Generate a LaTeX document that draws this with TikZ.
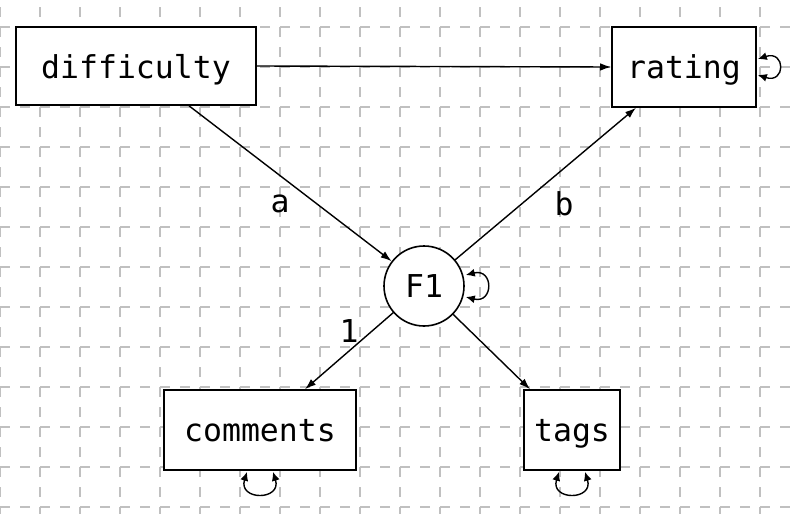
\documentclass[tikz,border=0pt]{standalone}
\usepackage{fontspec}
\setmonofont{DejaVu Sans Mono}
\usetikzlibrary{arrows.meta,calc}
\begin{document}
\begin{tikzpicture}[x=1pt,y=1pt,
  gridline/.style={draw={rgb,255:red,192;green,192;blue,192},line width=2pt,dash pattern=on 10pt off 10pt},
  var/.style={draw,fill=white,line width=1.6pt,inner sep=0pt,text depth=0pt,font=\ttfamily\fontsize{31.5}{36}\selectfont},
  lat/.style={var,circle,minimum size=80pt},
  path/.style={line width=1.4pt,-{Latex[length=11pt,width=7.5pt]}},
  loopy/.style={line width=1.4pt,{Latex[length=9pt,width=8pt]}-{Latex[length=9pt,width=8pt]}},
  lbl/.style={font=\ttfamily\fontsize{31.5}{36}\selectfont,inner sep=0pt}]
\useasboundingbox (0,0) rectangle (796,-514);
\fill[white] (0,0) rectangle (796,-514);
% grid
\foreach \gx in {0,40,...,760} {\draw[gridline] (\gx,-7) -- (\gx,-514);}
\foreach \gy in {27,67,...,507} {\draw[gridline] (0,-\gy) -- (796,-\gy);}
% nodes
\node[var,minimum width=240pt,minimum height=78pt] (difficulty) at (136,-66) {difficulty};
\node[var,minimum width=144pt,minimum height=80pt] (rating) at (684,-67) {rating};
\node[lat] (F1) at (424,-286) {F1};
\node[var,minimum width=192pt,minimum height=80pt] (comments) at (260,-430) {comments};
\node[var,minimum width=96pt,minimum height=80pt] (tags) at (572,-430) {tags};
% paths
\draw[path] (difficulty.east) -- (rating.west);
\draw[path] ($(difficulty.south)+(53,0)$) -- (F1);
\draw[path] (F1) -- ($(rating.south)+(-48,0)$);
\draw[path] (F1) -- ($(comments.north)+(45,0)$);
\draw[path] (F1) -- ($(tags.north)+(-42,0)$);
% labels
\node[lbl] (la) at (280,-204) {a};
\node[lbl] (lb) at (564,-204) {b};
\node[lbl] (l1) at (349,-331) {1};
% variance loops
\draw[loopy] ($(rating.east)+(1,8)$) .. controls +(28,9) and +(28,-9) .. ($(rating.east)+(1,-8)$);
\draw[loopy] ($(F1.east)+(1,11)$) .. controls +(28,7) and +(28,-7) .. ($(F1.east)+(1,-11)$);
\draw[loopy] ($(comments.south)+(-13,-1)$) .. controls +(-9,-29) and +(9,-29) .. ($(comments.south)+(13,-1)$);
\draw[loopy] ($(tags.south)+(-13,-1)$) .. controls +(-9,-29) and +(9,-29) .. ($(tags.south)+(13,-1)$);
\end{tikzpicture}
\end{document}
